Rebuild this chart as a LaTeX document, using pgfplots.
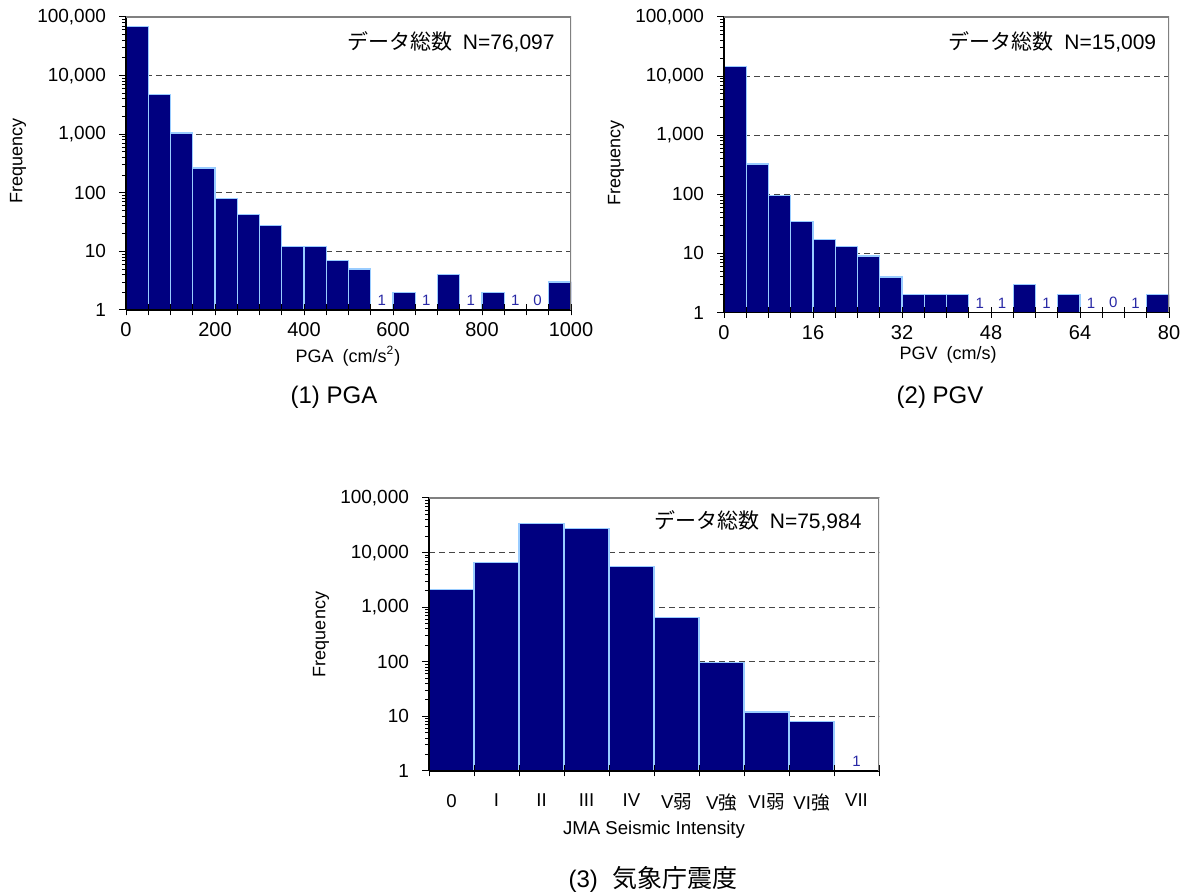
\documentclass[border=0pt]{standalone}
\usepackage{fontspec}
\setmainfont{Liberation Sans}
\newfontfamily\jp{Noto Sans CJK JP}
\usepackage{pgfplots}
\pgfplotsset{compat=1.18}

\definecolor{barfill}{RGB}{0,0,128}
\definecolor{baredge}{RGB}{153,204,255}
\definecolor{lblblue}{RGB}{40,40,165}
\definecolor{framegray}{RGB}{128,128,128}
\definecolor{gridgray}{RGB}{70,70,70}

\begin{document}
\begin{tikzpicture}
\useasboundingbox (0,0) rectangle (595pt,447pt);

% ---------- (1) PGA ----------
\begin{axis}[scale only axis, anchor=south west, at={(63pt,292pt)}, width=222.5pt, height=146.5pt,
    xmin=0, xmax=1000, ymode=log, ymin=1, ymax=100000,
    axis x line*=bottom, axis y line*=left, xtick=\empty,
    ytick={1,10,100,1000,10000,100000},
    yticklabels={1,10,100,{1,000},{10,000},{100,000}},
    minor ytick={2,3,4,5,6,7,8,9,20,30,40,50,60,70,80,90,200,300,400,500,600,700,800,900,2000,3000,4000,5000,6000,7000,8000,9000,20000,30000,40000,50000,60000,70000,80000,90000},
    tick align=outside, major tick length=3.5pt, minor tick length=2pt,
    yticklabel style={font=\fontsize{9.5}{10}\selectfont, xshift=-3pt},
    ymajorgrids, major grid style={gridgray, line width=0.5pt, dash pattern=on 3pt off 2pt},
    axis line style={black, line width=0.7pt}, tick style={black, line width=0.5pt}]
\addplot[ybar, bar width=50, fill=barfill, draw=baredge, line width=0.6pt] coordinates {(25,69860) (75,4720) (125,1050) (175,265) (225,81) (275,42) (325,28) (375,12) (425,12) (475,7) (525,5) (625,2) (725,4) (825,2) (975,3)};
\addplot[draw=none, mark=none, nodes near coords, point meta=explicit symbolic,
    every node near coord/.append style={font=\fontsize{7.5}{8}\selectfont, text=lblblue, anchor=south, inner sep=0pt, yshift=2pt}]
    coordinates {(575,1)[1] (675,1)[1] (775,1)[1] (875,1)[1] (925,1)[0]};
\node[anchor=east, inner sep=0pt, font=\fontsize{10.5}{12}\selectfont] at (rel axis cs:0.964,0.915) {{\jp データ総数}\hspace{0.5em}N=76,097};
\end{axis}
\begin{axis}[scale only axis, anchor=south west, at={(63pt,292pt)}, width=222.5pt, height=146.5pt,
    xmin=0, xmax=1000, ymode=log, ymin=1, ymax=100000,
    axis x line*=bottom, axis y line*=left, ytick=\empty,
    xtick={0,200,400,600,800,1000}, minor xtick={0,50,...,1000},
    tick align=center, major tick length=5.5pt, minor tick length=5.5pt,
    axis line style={black, line width=0.7pt}, tick style={black, line width=0.5pt},
    xticklabel style={font=\fontsize{10}{11}\selectfont},
    /pgf/number format/assume math mode=true, /pgf/number format/1000 sep={}]
\draw[framegray, line width=0.6pt] (rel axis cs:0,1) -- (rel axis cs:1,1) -- (rel axis cs:1,0);
\end{axis}

% ---------- (2) PGV ----------
\begin{axis}[scale only axis, anchor=south west, at={(362pt,290.75pt)}, width=222.5pt, height=147.75pt,
    xmin=0, xmax=80, ymode=log, ymin=1, ymax=100000,
    axis x line*=bottom, axis y line*=left, xtick=\empty,
    ytick={1,10,100,1000,10000,100000},
    yticklabels={1,10,100,{1,000},{10,000},{100,000}},
    minor ytick={2,3,4,5,6,7,8,9,20,30,40,50,60,70,80,90,200,300,400,500,600,700,800,900,2000,3000,4000,5000,6000,7000,8000,9000,20000,30000,40000,50000,60000,70000,80000,90000},
    tick align=outside, major tick length=3.5pt, minor tick length=2pt,
    yticklabel style={font=\fontsize{9.5}{10}\selectfont, xshift=-3pt},
    ymajorgrids, major grid style={gridgray, line width=0.5pt, dash pattern=on 3pt off 2pt},
    axis line style={black, line width=0.7pt}, tick style={black, line width=0.5pt}]
\addplot[ybar, bar width=4, fill=barfill, draw=baredge, line width=0.6pt] coordinates {(2,14493) (6,326) (10,94) (14,35) (18,17) (22,13) (26,9) (30,4) (34,2) (38,2) (42,2) (54,3) (62,2) (78,2)};
\addplot[draw=none, mark=none, nodes near coords, point meta=explicit symbolic,
    every node near coord/.append style={font=\fontsize{7.5}{8}\selectfont, text=lblblue, anchor=south, inner sep=0pt, yshift=2pt}]
    coordinates {(46,1)[1] (50,1)[1] (58,1)[1] (66,1)[1] (70,1)[0] (74,1)[1]};
\node[anchor=east, inner sep=0pt, font=\fontsize{10.5}{12}\selectfont] at (rel axis cs:0.972,0.915) {{\jp データ総数}\hspace{0.5em}N=15,009};
\end{axis}
\begin{axis}[scale only axis, anchor=south west, at={(362pt,290.75pt)}, width=222.5pt, height=147.75pt,
    xmin=0, xmax=80, ymode=log, ymin=1, ymax=100000,
    axis x line*=bottom, axis y line*=left, ytick=\empty,
    xtick={0,16,32,48,64,80}, minor xtick={0,4,...,80},
    tick align=center, major tick length=5.5pt, minor tick length=5.5pt,
    axis line style={black, line width=0.7pt}, tick style={black, line width=0.5pt},
    xticklabel style={font=\fontsize{10}{11}\selectfont},
    /pgf/number format/assume math mode=true, /pgf/number format/1000 sep={}]
\draw[framegray, line width=0.6pt] (rel axis cs:0,1) -- (rel axis cs:1,1) -- (rel axis cs:1,0);
\end{axis}

% ---------- (3) JMA ----------
\begin{axis}[scale only axis, anchor=south west, at={(214.5pt,61.5pt)}, width=225pt, height=136.5pt,
    xmin=-0.5, xmax=9.5, ymode=log, ymin=1, ymax=100000,
    axis x line*=bottom, axis y line*=left, xtick=\empty,
    ytick={1,10,100,1000,10000,100000},
    yticklabels={1,10,100,{1,000},{10,000},{100,000}},
    minor ytick={2,3,4,5,6,7,8,9,20,30,40,50,60,70,80,90,200,300,400,500,600,700,800,900,2000,3000,4000,5000,6000,7000,8000,9000,20000,30000,40000,50000,60000,70000,80000,90000},
    tick align=outside, major tick length=3.5pt, minor tick length=2pt,
    yticklabel style={font=\fontsize{9.5}{10}\selectfont, xshift=-3pt},
    ymajorgrids, major grid style={gridgray, line width=0.5pt, dash pattern=on 3pt off 2pt},
    axis line style={black, line width=0.7pt}, tick style={black, line width=0.5pt}]
\addplot[ybar, bar width=1, fill=barfill, draw=baredge, line width=0.6pt] coordinates {(0,2140) (1,6560) (2,33750) (3,27220) (4,5539) (5,658) (6,96) (7,12) (8,8)};
\addplot[draw=none, mark=none, nodes near coords, point meta=explicit symbolic,
    every node near coord/.append style={font=\fontsize{7.5}{8}\selectfont, text=lblblue, anchor=south, inner sep=0pt, yshift=2pt}]
    coordinates {(9,1)[1]};
\node[anchor=east, inner sep=0pt, font=\fontsize{10.5}{12}\selectfont] at (rel axis cs:0.962,0.916) {{\jp データ総数}\hspace{0.5em}N=75,984};
\end{axis}
\begin{axis}[scale only axis, anchor=south west, at={(214.5pt,61.5pt)}, width=225pt, height=136.5pt,
    xmin=-0.5, xmax=9.5, ymode=log, ymin=1, ymax=100000,
    axis x line*=bottom, axis y line*=left, ytick=\empty,
    xtick={0,1,2,3,4,5,6,7,8,9},
    xticklabels={0,I,II,III,IV,V{\jp 弱},V{\jp 強},VI{\jp 弱},VI{\jp 強},VII},
    minor xtick={-0.5,0.5,1.5,2.5,3.5,4.5,5.5,6.5,7.5,8.5,9.5},
    tick align=center, major tick length=0pt, minor tick length=5.5pt,
    axis line style={black, line width=0.7pt}, tick style={black, line width=0.5pt},
    xticklabel style={font=\fontsize{9.3}{10}\selectfont, yshift=-8pt}]
\draw[framegray, line width=0.6pt] (rel axis cs:0,1) -- (rel axis cs:1,1) -- (rel axis cs:1,0);
\end{axis}

% ---------- labels ----------
\node[rotate=90, font=\fontsize{9}{10}\selectfont] at (9pt,366.5pt) {Frequency};
\node[rotate=90, font=\fontsize{9}{10}\selectfont] at (308pt,365.5pt) {Frequency};
\node[rotate=90, font=\fontsize{9}{10}\selectfont] at (160.5pt,129.75pt) {Frequency};

\node[font=\fontsize{9}{10}\selectfont] at (174pt,269pt) {PGA\hspace{0.5em}(cm/s\textsuperscript{2})};
\node[font=\fontsize{9}{10}\selectfont] at (474pt,269.5pt) {PGV\hspace{0.5em}(cm/s)};
\node[font=\fontsize{9.3}{10}\selectfont] at (327pt,32pt) {JMA Seismic Intensity};

\node[font=\fontsize{12}{14}\selectfont] at (167pt,248.5pt) {(1) PGA};
\node[font=\fontsize{12}{14}\selectfont] at (470pt,248.5pt) {(2) PGV};
\node[font=\fontsize{12}{14}\selectfont] at (326.5pt,7.5pt) {(3)\hspace{0.6em}{\jp\fontsize{12.5}{14}\selectfont 気象庁震度}};
\end{tikzpicture}
\end{document}
